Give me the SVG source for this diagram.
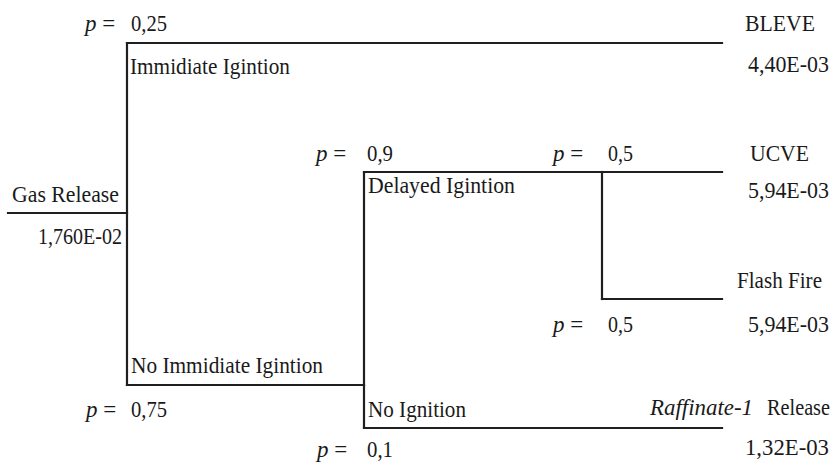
<svg xmlns="http://www.w3.org/2000/svg" width="838" height="466" viewBox="0 0 838 466">
<style>
text{font-family:"Liberation Serif",Tinos,"Noto Serif","DejaVu Serif",FreeSerif,Times,"Times New Roman",serif;font-size:23px;fill:#1a1a1a}
.i{font-style:italic}
.ln{stroke:#1f1f1f;stroke-width:2.2;fill:none;stroke-linecap:square}
</style>
<rect width="838" height="466" fill="#ffffff"/>
<g id="connectors">
<path class="ln" d="M8,213 H127"/>
<path class="ln" d="M127,43 V385"/>
<path class="ln" d="M127,43 H722"/>
<path class="ln" d="M127,385 H364"/>
<path class="ln" d="M364,172 V428"/>
<path class="ln" d="M364,172 H722"/>
<path class="ln" d="M602,172 V299"/>
<path class="ln" d="M602,299 H722"/>
<path class="ln" d="M364,428 H722"/>
</g>
<g id="gas-release">
<text x="12" y="202" textLength="107" lengthAdjust="spacingAndGlyphs">Gas Release</text>
<text x="38" y="244" textLength="84" lengthAdjust="spacingAndGlyphs">1,760E-02</text>
</g>
<g id="immediate-ignition">
<text x="85" y="31"><tspan class="i">p</tspan> =</text>
<text x="131" y="31" textLength="36" lengthAdjust="spacingAndGlyphs">0,25</text>
<text x="130" y="74" textLength="160" lengthAdjust="spacingAndGlyphs">Immidiate Igintion</text>
</g>
<g id="no-immediate-ignition">
<text x="131" y="373" textLength="192" lengthAdjust="spacingAndGlyphs">No Immidiate Igintion</text>
<text x="86" y="417"><tspan class="i">p</tspan> =</text>
<text x="131" y="417" textLength="36" lengthAdjust="spacingAndGlyphs">0,75</text>
</g>
<g id="delayed-ignition">
<text x="316" y="161"><tspan class="i">p</tspan> =</text>
<text x="367" y="161" textLength="26" lengthAdjust="spacingAndGlyphs">0,9</text>
<text x="368" y="193" textLength="147" lengthAdjust="spacingAndGlyphs">Delayed Igintion</text>
</g>
<g id="no-ignition">
<text x="368" y="417" textLength="98" lengthAdjust="spacingAndGlyphs">No Ignition</text>
<text x="317" y="457"><tspan class="i">p</tspan> =</text>
<text x="367" y="457" textLength="26" lengthAdjust="spacingAndGlyphs">0,1</text>
</g>
<g id="bleve">
<text x="745" y="31" textLength="70" lengthAdjust="spacingAndGlyphs">BLEVE</text>
<text x="748" y="72" textLength="81" lengthAdjust="spacingAndGlyphs">4,40E-03</text>
</g>
<g id="ucve">
<text x="553" y="161"><tspan class="i">p</tspan> =</text>
<text x="608" y="161" textLength="25" lengthAdjust="spacingAndGlyphs">0,5</text>
<text x="750" y="161" textLength="59" lengthAdjust="spacingAndGlyphs">UCVE</text>
<text x="748" y="198" textLength="81" lengthAdjust="spacingAndGlyphs">5,94E-03</text>
</g>
<g id="flash-fire">
<text x="737" y="288" textLength="85" lengthAdjust="spacingAndGlyphs">Flash Fire</text>
<text x="553" y="332"><tspan class="i">p</tspan> =</text>
<text x="608" y="332" textLength="25" lengthAdjust="spacingAndGlyphs">0,5</text>
<text x="748" y="332" textLength="81" lengthAdjust="spacingAndGlyphs">5,94E-03</text>
</g>
<g id="raffinate-release">
<text class="i" x="650" y="415" textLength="103" lengthAdjust="spacingAndGlyphs">Raffinate-1</text>
<text x="767" y="415" textLength="63" lengthAdjust="spacingAndGlyphs">Release</text>
<text x="745" y="455" textLength="84" lengthAdjust="spacingAndGlyphs">1,32E-03</text>
</g>
</svg>
